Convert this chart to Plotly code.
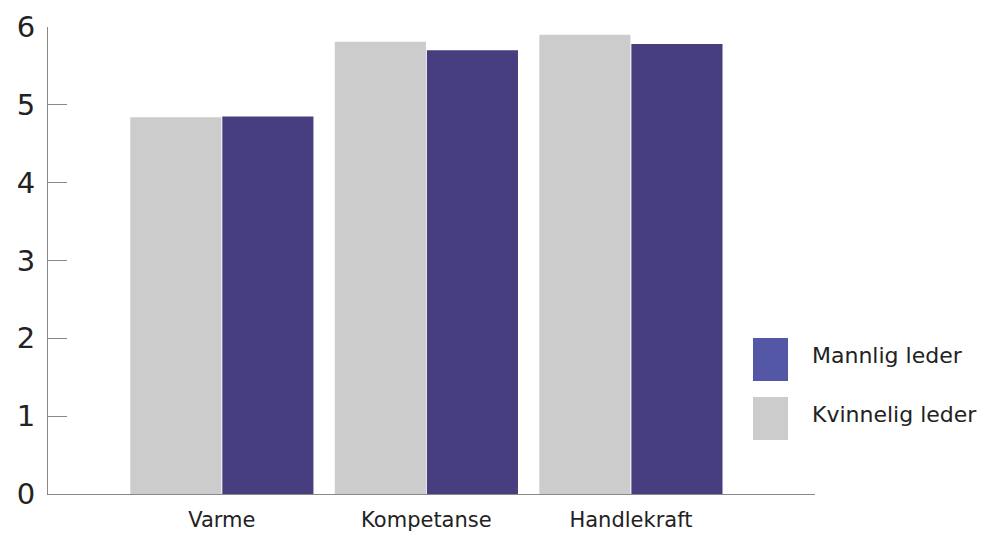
import plotly.graph_objects as go

categories = ["Varme", "Kompetanse", "Handlekraft"]
kvinnelig = [4.84, 5.81, 5.90]
mannlig = [4.85, 5.70, 5.78]
y_ticks = [0, 1, 2, 3, 4, 5, 6]

GREY = "#cccccc"
PURPLE = "#463e7e"
PURPLE_LEGEND = "#5457a6"
FONT = "DejaVu Sans, sans-serif"

fig = go.Figure()
fig.add_trace(go.Bar(x=categories, y=kvinnelig, name="Kvinnelig leder",
                     marker=dict(color=GREY, line=dict(width=0)), showlegend=False))
fig.add_trace(go.Bar(x=categories, y=mannlig, name="Mannlig leder",
                     marker=dict(color=PURPLE, line=dict(width=0)), showlegend=False))

W, H = 1002, 533
ml, mr, mt, mb = 48, 187, 27, 39

fig.update_layout(
    width=W, height=H,
    margin=dict(l=ml, r=mr, t=mt, b=mb, autoexpand=False),
    paper_bgcolor="white", plot_bgcolor="white",
    barmode="group", bargap=0.1, bargroupgap=0.01,
    font=dict(family=FONT, color="#222222"),
    xaxis=dict(range=[-0.85, 2.9], showline=True, linecolor="#888888", linewidth=1,
               ticks="", showgrid=False, zeroline=False, automargin=False,
               tickfont=dict(size=21, color="#222222"), ticklabelstandoff=7),
    yaxis=dict(range=[0, 6], tickvals=y_ticks, showline=True, linecolor="#888888",
               linewidth=1, ticks="inside", ticklen=19, tickcolor="#888888", tickwidth=1,
               showgrid=False, zeroline=False, automargin=False,
               tickfont=dict(size=29, color="#222222"), ticklabelstandoff=6),
)

def px_x(p):
    return (p - ml) / (W - ml - mr)

def px_y(p):
    return 1 - (p - mt) / (H - mt - mb)

legend_items = [("Mannlig leder", PURPLE_LEGEND, 338, 381),
                ("Kvinnelig leder", GREY, 397, 440)]
for label, color, y0, y1 in legend_items:
    fig.add_shape(type="rect", xref="paper", yref="paper",
                  x0=px_x(753), x1=px_x(788), y0=px_y(y1), y1=px_y(y0),
                  fillcolor=color, line=dict(width=0))
    fig.add_annotation(xref="paper", yref="paper", x=px_x(810), y=px_y((y0 + y1) / 2 - 4),
                       text=label, showarrow=False, xanchor="left", yanchor="middle",
                       font=dict(size=22, color="#222222", family=FONT))

fig.write_html("out.html")
